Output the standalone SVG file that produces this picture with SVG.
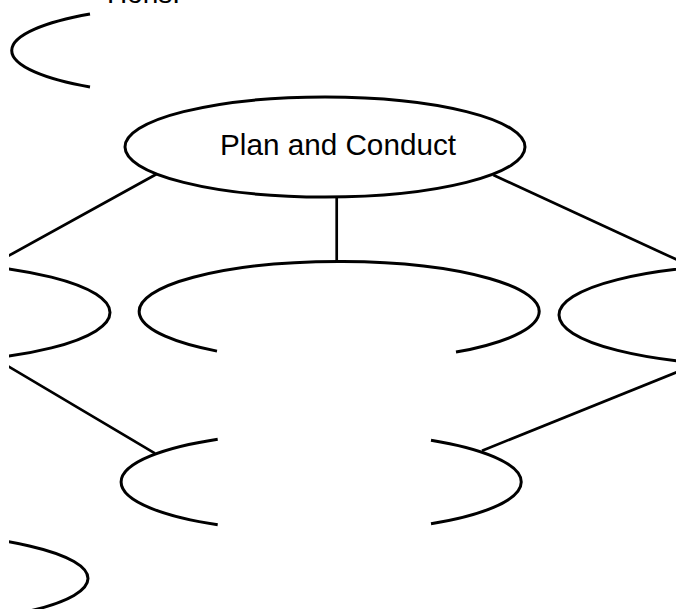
<svg xmlns="http://www.w3.org/2000/svg" width="676" height="609" viewBox="0 0 676 609">
  <style>
    .node { fill: none; stroke: #000; stroke-width: 3; }
    .edge { fill: none; stroke: #000; stroke-width: 2.7; }
    .label { font-family: "Liberation Sans", Arial, sans-serif; fill: #000; }
  </style>
  <defs>
    <clipPath id="page">
      <rect x="9" y="0" width="667" height="609"/>
    </clipPath>
  </defs>
  <rect x="0" y="0" width="676" height="609" fill="#fff"/>
  <g clip-path="url(#page)">
    <text class="label" x="107" y="3" font-size="28">Hons.</text>

    <g id="connectors">
      <line class="edge" x1="156.7" y1="174" x2="-5" y2="263.3"/>
      <line class="edge" x1="336.7" y1="196" x2="336.7" y2="262"/>
      <line class="edge" x1="493.3" y1="175" x2="690" y2="265.8"/>
      <line class="edge" x1="-10" y1="355.5" x2="155" y2="453.3"/>
      <line class="edge" x1="482" y1="450.7" x2="690" y2="366.9"/>
    </g>

    <g id="node-top-left">
      <path class="node" d="M90,14 A200,46 0 0 0 90,87"/>
    </g>

    <g id="node-plan-and-conduct">
      <ellipse class="node" cx="325" cy="147" rx="200" ry="50"/>
      <text class="label" x="220" y="155" font-size="29.5" textLength="236" lengthAdjust="spacingAndGlyphs">Plan and Conduct</text>
    </g>

    <g id="node-middle-left">
      <ellipse class="node" cx="-90" cy="312.5" rx="200" ry="50"/>
    </g>

    <g id="node-middle-center">
      <path class="node" d="M217,351.1 A200,50 0 1 1 456,352.1"/>
    </g>

    <g id="node-middle-right">
      <ellipse class="node" cx="759" cy="315" rx="200" ry="50"/>
    </g>

    <g id="node-bottom-center">
      <path class="node" d="M217.7,439.2 A200,50 0 0 0 217.7,524.8"/>
      <path class="node" d="M431,440.2 A200,50 0 0 1 431,523.8"/>
    </g>

    <g id="node-bottom-left">
      <ellipse class="node" cx="-112" cy="578.5" rx="200" ry="46"/>
    </g>
  </g>
</svg>
